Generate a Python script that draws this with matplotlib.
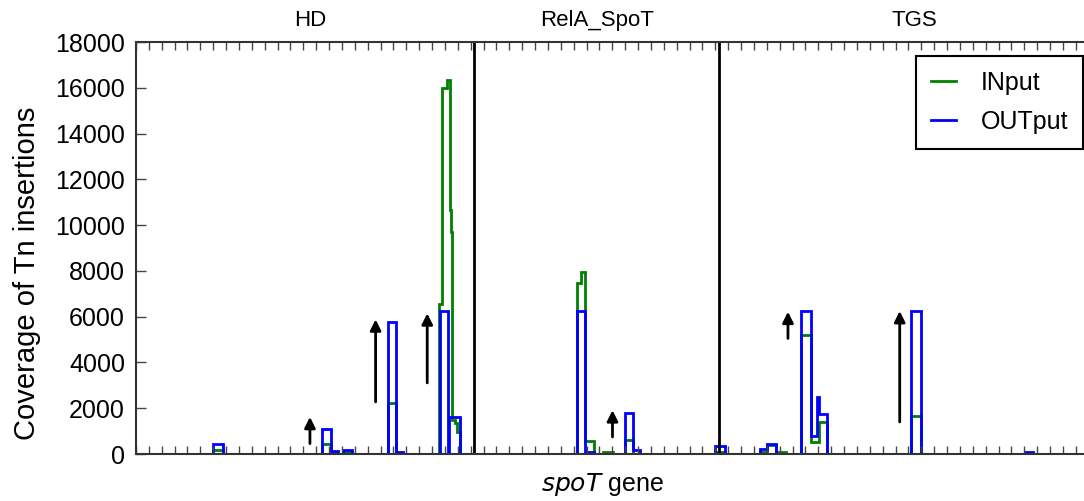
import matplotlib
matplotlib.use("Agg")
import matplotlib.pyplot as plt
import matplotlib.transforms as mtransforms
import numpy as np

plt.rcParams['font.family'] = ['Liberation Sans', 'DejaVu Sans']

# step boundaries along spoT (arbitrary position units, 10 per tick)
edges = [0, 59.8, 67.5, 144.2, 151.2, 157.1, 161.0, 167.7, 195.9, 201.9, 207.5,
         235.5, 236.0, 237.6, 241.2, 242.5, 243.4, 243.8, 244.6, 245.3, 247.7,
         249.6, 251.6, 342.6, 345.3, 349.1, 355.8, 362.6, 370.3, 379.7, 386.1,
         391.3, 449.5, 457.3, 484.5, 490.0, 497.0, 505.2, 516.8, 524.1, 529.1,
         530.6, 536.5, 602.3, 609.5, 690.2, 696.4, 741]

input_cov = [0, 180, 0, 420, 90, 0, 100, 0, 2250, 0, 0,
             6550, 6550, 15990, 16350, 16350, 16350, 10650, 9700, 1500, 1350,
             980, 0, 7457, 7938, 560, 0, 90, 0, 600, 0,
             0, 90, 0, 70, 380, 90, 0, 5200, 520, 520,
             1400, 0, 1680, 0, 0, 0]

output_cov = [0, 450, 0, 1110, 115, 0, 190, 0, 5780, 90, 0,
              0, 6245, 6245, 6245, 0, 1620, 1620, 1620, 1620, 1620,
              1620, 0, 6258, 6258, 100, 0, 0, 0, 1795, 160,
              0, 340, 0, 205, 455, 0, 0, 6245, 790, 2500,
              1730, 0, 6230, 0, 80, 0]

# domain borders and labels
domain_borders = [262.7, 452.6]
domain_names = ["HD", "RelA_SpoT", "TGS"]
domain_label_x = [135.1, 357.9, 604.8]

# arrows: x, tail, tip
arrow_x = [135.1, 186.1, 226.2, 370.1, 506.4, 593.2]
arrow_tail = [455, 2275, 3107, 744, 5050, 1400]
arrow_tip = [1619, 5881, 6144, 1912, 6214, 6245]

fig = plt.figure(figsize=(10.84, 5.01), dpi=100)
ax = fig.add_axes([136/1084, 47/501, (1090-136)/1084, 412/501])

ax.stairs(input_cov, edges, color='#008000', lw=2, label='INput', baseline=None)
ax.stairs(output_cov, edges, color='#0000ff', lw=2, label='OUTput', baseline=None)

for b in domain_borders:
    ax.axvline(b, color='black', lw=2)

trans = mtransforms.blended_transform_factory(ax.transData, ax.transAxes)
for name, x in zip(domain_names, domain_label_x):
    ax.text(x, 1.053, name, transform=trans, ha='center', va='center', fontsize=16)

for x, y0, y1 in zip(arrow_x, arrow_tail, arrow_tip):
    ax.annotate('', xy=(x, y1), xytext=(x, y0),
                arrowprops=dict(arrowstyle='-|>', color='black', lw=2,
                                mutation_scale=16, shrinkA=0, shrinkB=0))

ax.set_xlim(0, 741)
ax.set_ylim(0, 18000)
ax.set_xticks(np.arange(0, 741, 10))
ax.set_xticklabels([])
ax.set_yticks(np.arange(0, 18001, 2000))
ax.tick_params(axis='x', direction='in', top=True, bottom=True, length=6,
               color='#444444', width=1)
ax.tick_params(axis='y', direction='in', left=True, right=False, length=7,
               color='#444444', width=1, labelsize=18, pad=8)
for s in ax.spines.values():
    s.set_color('#333333')
    s.set_linewidth(1.5)

ax.set_ylabel('Coverage of Tn insertions', fontsize=21)
ax.yaxis.set_label_coords((41-136)/954, (454-273)/412)
ax.set_xlabel(r'$\it{spoT}$ gene', fontsize=18)
ax.xaxis.set_label_coords((602-136)/954, (454-485)/412)
ax.xaxis.label.set_va('center')

leg = ax.legend(loc='upper right', bbox_to_anchor=(1083/1084, 1-56/501),
                bbox_transform=fig.transFigure, fontsize=18, fancybox=False,
                framealpha=1, edgecolor='black', handlelength=1.0,
                labelspacing=0.6, borderpad=0.6, borderaxespad=0,
                handletextpad=1.0)
leg.get_frame().set_linewidth(1.5)

fig.savefig('out.png', dpi=100)
